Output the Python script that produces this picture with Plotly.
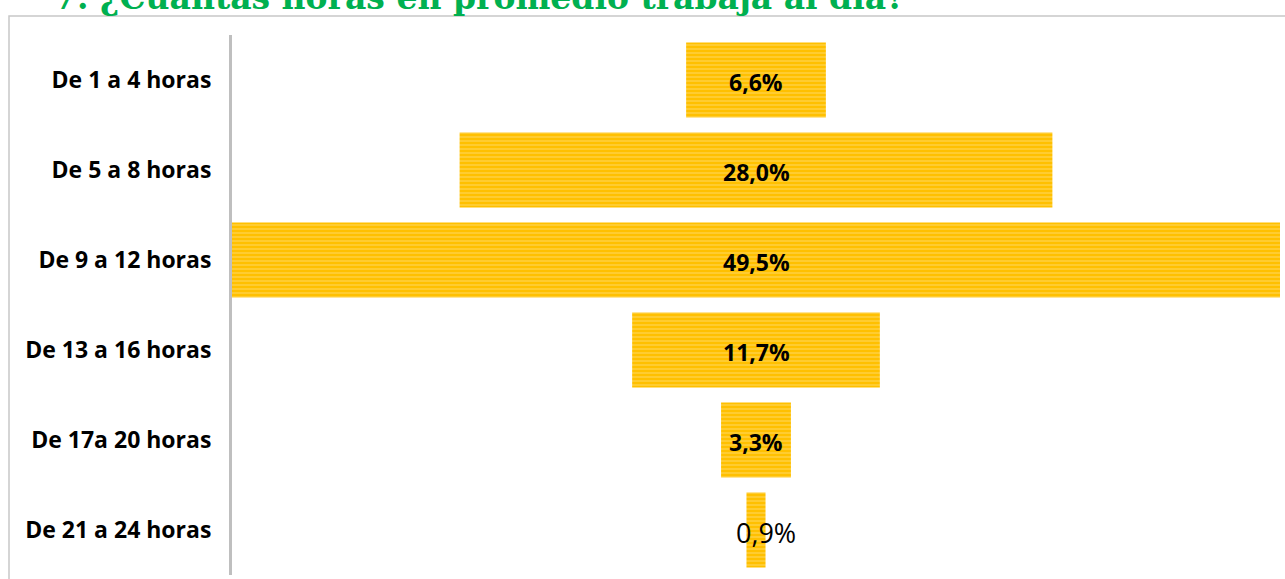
import plotly.graph_objects as go

categories = ["De 1 a 4 horas", "De 5 a 8 horas", "De 9 a 12 horas",
              "De 13 a 16 horas", "De 17a 20 horas", "De 21 a 24 horas"]
values = [6.6, 28.0, 49.5, 11.7, 3.3, 0.9]
labels = ["6,6%", "28,0%", "49,5%", "11,7%", "3,3%", "0,9%"]
title_text = "7. ¿Cuántas horas en promedio trabaja al día?"

W, H = 1285, 579
ML, MR, MT, MB = 232, 5, 35, 4
pw, ph = W - ML - MR, H - MT - MB

fig = go.Figure()
fig.add_trace(go.Bar(
    y=categories, x=values, base=[-v / 2 for v in values],
    orientation="h",
    marker=dict(color="#FFC000",
                line=dict(width=0),
                pattern=dict(shape="-", fgcolor="#FFE38A", bgcolor="#FFC000",
                             size=4, solidity=0.35)),
    width=0.835,
    hoverinfo="skip",
))

for i, (c, t) in enumerate(zip(categories, labels)):
    bold = i < len(categories) - 1
    fig.add_annotation(x=0, y=c, xref="x", yref="y", text=f"<b>{t}</b>" if bold else t,
                       showarrow=False, xshift=0 if bold else 10, yshift=-2,
                       font=dict(family="Open Sans", size=23 if bold else 27, color="#000000"))

fig.add_annotation(xref="paper", yref="paper", x=(52 - ML) / pw, y=1 + (MT - 19) / ph,
                   xanchor="left", yanchor="bottom", text=f"<b>{title_text}</b>", showarrow=False,
                   font=dict(family="DejaVu Serif", size=33, color="#00B050"))

fig.add_shape(type="rect", xref="paper", yref="paper",
              x0=(9 - ML) / pw, x1=1.05, y0=-0.05, y1=1 + (MT - 16) / ph,
              line=dict(color="#C8C8C8", width=1.5), fillcolor="rgba(0,0,0,0)", layer="below")

fig.update_layout(
    width=W, height=H,
    margin=dict(l=ML, r=MR, t=MT, b=MB),
    paper_bgcolor="white", plot_bgcolor="white",
    showlegend=False,
    xaxis=dict(range=[-values[2] / 2, values[2] / 2], visible=False, fixedrange=True),
    yaxis=dict(categoryorder="array", categoryarray=categories, autorange="reversed",
               showline=True, linecolor="#BFBFBF", linewidth=3, ticks="",
               ticklabelstandoff=13,
               tickfont=dict(family="Open Sans", size=23, color="#000000", weight="bold"),
               showgrid=False, zeroline=False),
)

fig.write_html("out.html", config={"displayModeBar": False},
               post_script="document.body.style.margin='0';")
